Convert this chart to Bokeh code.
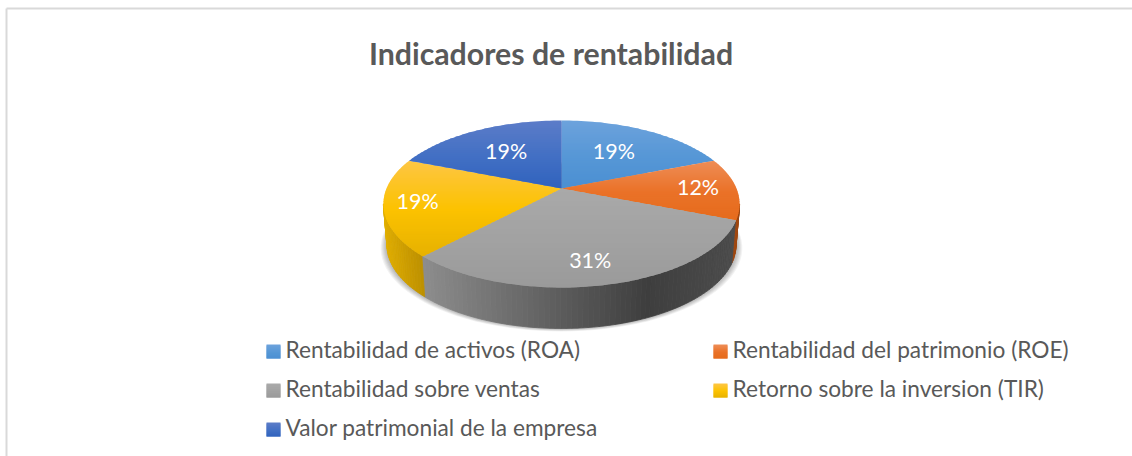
import math
from bokeh.plotting import figure
from bokeh.models import Range1d
from bokeh.core.properties import value
from bokeh.embed import file_html
from bokeh.resources import INLINE

TITLE = "Indicadores de rentabilidad"
categories = ["Rentabilidad de activos (ROA)", "Rentabilidad del patrimonio (ROE)",
              "Rentabilidad sobre ventas", "Retorno sobre la inversion (TIR)",
              "Valor patrimonial de la empresa"]
percent_values = [19, 12, 31, 19, 19]

# Style: face gradient stops per slice (top, middle, bottom)
face_colors = [("#6ca2dc", "#5797d6", "#4a8fd2"), ("#ee8c55", "#ea7228", "#e56b1c"),
               ("#a9a9a9", "#a2a2a2", "#9a9a9a"), ("#fdc643", "#fcc200", "#e6b100"),
               ("#5b7cc8", "#4370c4", "#2f62bd")]
wall_colors = [("#a04810", "#a04810"), ("#a04810", "#a04810"), None,
               ("#e0ae00", "#bd9000"), ("#2f62bd", "#2f62bd")]
# Layout
CX, CY = 561, 188
A, B, K = 175, 80.6, 0.1856
DEPTH, BOTTOM_SCALE = 41, 0.98
label_radius = [0.58, 0.78, 0.80, 0.815, 0.58]
label_dx = [0, 0, -7, 0, -3]
TEXT_DY = -2
legend_col_x = [266, 713]
legend_row_y = [344, 383, 422]
SWATCH = 14
LEGEND_FONT = "22.7px"
LABEL_FONT = "21.5px"
TITLE_FONT = "30.3px"
FONT = "Lato"


def project(theta_deg, r=1.0):
    t = math.radians(theta_deg)
    d = 1 + K * r * math.cos(t)
    return CX + A * r * math.sin(t) / d, CY - B * r * math.cos(t) / d


def hexrgb(h):
    return tuple(int(h[i:i + 2], 16) for i in (1, 3, 5))


def mix(a, b, f):
    a, b = hexrgb(a), hexrgb(b)
    f = max(0, min(1, f))
    return "#%02x%02x%02x" % tuple(round(a[i] + (b[i] - a[i]) * f) for i in range(3))


def clip_half(poly, y, keep_below):
    out = []
    n = len(poly)
    inside = (lambda p: p[1] >= y) if keep_below else (lambda p: p[1] <= y)
    for i in range(n):
        p, q = poly[i], poly[(i + 1) % n]
        if inside(p):
            out.append(p)
        if inside(p) != inside(q):
            f = (y - p[1]) / (q[1] - p[1])
            out.append((p[0] + (q[0] - p[0]) * f, y))
    return out


def add_bands(poly, stops, xs, ys, cs, step=2.0):
    y0 = min(p[1] for p in poly)
    y1 = max(p[1] for p in poly)
    y = y0
    while y < y1:
        band = clip_half(clip_half(poly, y, True), y + step + 1, False)
        if len(band) >= 3:
            f = (y - y0) / max(y1 - y0, 1)
            c = mix(stops[0], stops[1], f * 2) if f < 0.5 else mix(stops[1], stops[2], f * 2 - 1)
            xs.append([p[0] for p in band])
            ys.append([p[1] for p in band])
            cs.append(c)
        y += step


p = figure(width=1132, height=456, x_range=Range1d(0, 1132), y_range=Range1d(456, 0),
           output_backend="svg", toolbar_location=None, min_border=0,
           x_axis_type=None, y_axis_type=None, outline_line_color=None,
           background_fill_color="white", border_fill_color="white")
p.grid.visible = False

# chart frame
p.line([6, 6], [456, 8], line_color="#d9d9d9", line_width=2)
p.line([6, 1132], [8, 8], line_color="#d9d9d9", line_width=2)

# soft shadow under the pie
for i in range(6):
    grow = 6 - i
    sx, sy = [], []
    for a in range(0, 360, 3):
        x, y = project(a)
        sx.append(CX + (x - CX) * BOTTOM_SCALE * (1 + grow * 0.006))
        sy.append(y + DEPTH + grow * 0.5)
    p.patch(sx, sy, fill_color="#000000", fill_alpha=0.05, line_color=None)

# slice boundaries
total = sum(percent_values)
bounds = [0]
for v in percent_values:
    bounds.append(bounds[-1] + v / total * 360)

# side wall
left_limit = 360 - math.degrees(math.acos(-K))
right_limit = math.degrees(math.acos(-K))
wx, wy, wc = [], [], []
theta = right_limit
while theta < left_limit:
    nxt = min(theta + 1.5, left_limit)
    idx = next(i for i in range(5) if bounds[i] <= theta + 0.01 < bounds[i + 1])
    x0, y0 = project(theta)
    x1, y1 = project(nxt)
    bx0 = CX + (x0 - CX) * BOTTOM_SCALE
    bx1 = CX + (x1 - CX) * BOTTOM_SCALE
    if wall_colors[idx] is None:
        if x0 > 650:
            c = mix("#3e3e3e", "#4c4c4c", (x0 - 650) / 88)
        else:
            c = mix("#8e8e8e", "#3e3e3e", (x0 - 419) / 231)
    else:
        c = mix(wall_colors[idx][0], wall_colors[idx][1], (x0 - 383) / 40)
    wx.append([x0, x1, bx1, bx0])
    wy.append([y0, y1, y1 + DEPTH, y0 + DEPTH])
    wc.append(c)
    theta = nxt
p.patches(wx, wy, fill_color=wc, line_color=wc, line_width=0.8)

# top faces
fx, fy, fc = [], [], []
for i in range(5):
    poly = [(CX, CY)]
    n = max(int((bounds[i + 1] - bounds[i]) / 1.5), 2)
    for j in range(n + 1):
        poly.append(project(bounds[i] + (bounds[i + 1] - bounds[i]) * j / n))
    add_bands(poly, face_colors[i], fx, fy, fc)
p.patches(fx, fy, fill_color=fc, line_color=None)

# percentage labels
lx, ly, lt = [], [], []
for i, v in enumerate(percent_values):
    mid = (bounds[i] + bounds[i + 1]) / 2
    x, y = project(mid, label_radius[i])
    lx.append(x + label_dx[i])
    ly.append(y + TEXT_DY)
    lt.append(f"{v}%")
p.text(lx, ly, text=lt, text_color="white", text_font=value(FONT),
       text_font_size=value(LABEL_FONT), text_align="center", text_baseline="middle")

# title
p.text([550.5], [54 + TEXT_DY], text=[TITLE], text_color="#595959", text_font=value(FONT),
       text_font_style="bold", text_font_size=value(TITLE_FONT),
       text_align="center", text_baseline="middle")

# legend
sx, sy, sc = [], [], []
tx, ty, tt = [], [], []
for i, name in enumerate(categories):
    col, row = i % 2, i // 2
    x0, y0 = legend_col_x[col], legend_row_y[row]
    add_bands([(x0, y0), (x0 + SWATCH, y0), (x0 + SWATCH, y0 + SWATCH), (x0, y0 + SWATCH)],
              face_colors[i], sx, sy, sc, step=1.0)
    tx.append(x0 + SWATCH + 5)
    ty.append(y0 + SWATCH / 2 + TEXT_DY)
    tt.append(name)
p.patches(sx, sy, fill_color=sc, line_color=None)
p.text(tx, ty, text=tt, text_color="#595959", text_font=value(FONT),
       text_font_size=value(LEGEND_FONT), text_align="left", text_baseline="middle")

open("out.html", "w").write(file_html(p, INLINE))
